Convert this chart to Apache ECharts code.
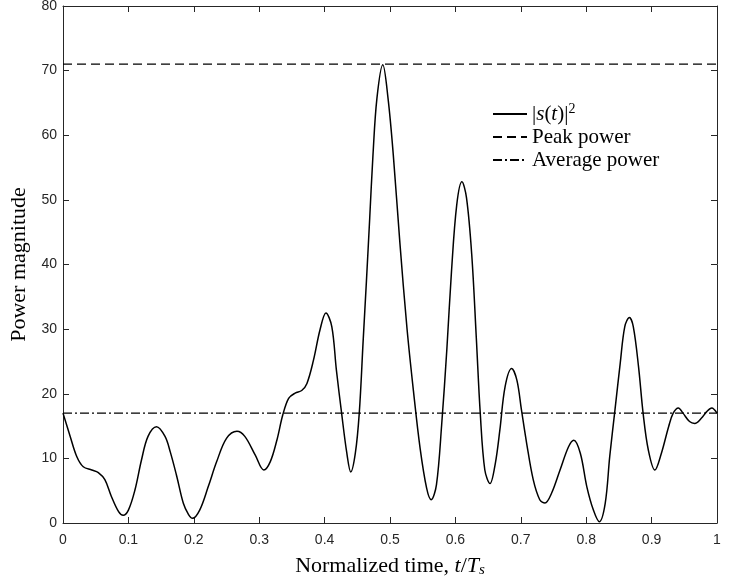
<!DOCTYPE html>
<html>
<head>
<meta charset="utf-8">
<script src="https://cdn.jsdelivr.net/npm/echarts@6/dist/echarts.min.js"></script>
<style>html,body{margin:0;padding:0;background:#fff;}#c{width:743px;height:581px;}</style>
</head>
<body>
<div id="c"></div>
<script>
// ---- data ----
const tValues = [0.000,0.011,0.021,0.031,0.044,0.054,0.064,0.074,0.085,0.092,0.100,0.110,0.120,0.130,0.143,0.156,0.164,0.174,0.184,0.192,0.198,0.209,0.222,0.235,0.250,0.266,0.278,0.294,0.307,0.317,0.327,0.336,0.345,0.355,0.365,0.373,0.383,0.393,0.402,0.411,0.418,0.426,0.434,0.440,0.447,0.453,0.459,0.464,0.469,0.474,0.480,0.489,0.497,0.505,0.515,0.526,0.536,0.546,0.556,0.563,0.571,0.579,0.587,0.594,0.602,0.610,0.617,0.625,0.632,0.638,0.645,0.653,0.661,0.668,0.676,0.686,0.694,0.701,0.709,0.719,0.729,0.737,0.747,0.760,0.773,0.781,0.791,0.801,0.811,0.820,0.829,0.836,0.844,0.852,0.859,0.866,0.872,0.880,0.887,0.895,0.905,0.915,0.926,0.933,0.941,0.948,0.958,0.966,0.976,0.984,0.992,1.000];
const powerValues = [17.0,13.4,10.3,8.7,8.2,7.8,6.7,4.1,1.75,1.2,2.0,5.1,9.75,13.4,14.9,13.4,11.0,7.2,3.05,1.3,0.72,2.0,5.6,9.5,13.1,14.2,13.4,10.5,8.2,9.5,12.8,16.7,19.3,20.1,20.5,21.6,25.2,29.9,32.5,30.4,23.7,17.0,10.8,7.9,10.8,17.0,28.3,37.5,47.2,57.0,65.7,70.9,65.7,57.0,43.5,30.1,20.3,11.6,5.4,3.6,5.9,15.2,27.0,38.9,49.2,52.8,50.3,41.5,28.6,17.0,8.2,6.1,9.2,14.4,21.1,23.9,22.1,17.5,12.3,6.7,3.6,3.1,4.6,8.2,11.8,12.8,10.8,5.6,2.0,0.2,3.0,10.3,17.5,24.7,30.4,31.8,30.4,24.2,17.0,11.3,8.2,10.8,14.9,17.0,17.8,17.0,15.7,15.4,16.2,17.2,17.8,17.0];
const peakPower = 71;
const averagePower = 17;
const xRange = [0, 1];
const yRange = [0, 80];
const xTickLabels = ['0','0.1','0.2','0.3','0.4','0.5','0.6','0.7','0.8','0.9','1'];
const yTickLabels = ['0','10','20','30','40','50','60','70','80'];
const seriesNames = ['signal', 'Peak power', 'Average power'];

const curve = tValues.map((t, i) => [t, powerValues[i]]);
const peakLine = xRange.map(x => [x, peakPower]);
const avgLine = xRange.map(x => [x, averagePower]);

const axisColor = '#262626';
const serif = '"Liberation Serif", "Times New Roman", serif';
const sans = '"Liberation Sans", Arial, Helvetica, sans-serif';

const chart = echarts.init(document.getElementById('c'), null, {renderer: 'canvas'});
const baseAxis = {
  type: 'value',
  axisLine: {show: true, onZero: false, lineStyle: {color: axisColor, width: 1}},
  axisTick: {show: true, inside: true, length: 6, lineStyle: {color: axisColor, width: 1}},
  splitLine: {show: false}
};
chart.setOption({
  animation: false,
  backgroundColor: '#fff',
  grid: {left: 63, right: 26, top: 6, bottom: 58, containLabel: false, outerBoundsMode: 'none'},
  legend: {
    orient: 'vertical',
    left: 487, top: 97,
    itemWidth: 34, itemHeight: 14, itemGap: 2,
    data: seriesNames,
    itemStyle: {color: 'transparent', borderColor: 'transparent', borderWidth: 0},
    textStyle: {
      fontFamily: serif, fontSize: 21, color: '#000', lineHeight: 21,
      rich: {
        i: {fontFamily: serif, fontSize: 21, fontStyle: 'italic', color: '#000', lineHeight: 21},
        sup: {fontFamily: serif, fontSize: 14, color: '#000', padding: [0, 0, 10, 0]}
      }
    },
    formatter: function (name) {
      if (name === 'signal') return '|{i|s}({i|t})|{sup|2}';
      return name;
    }
  },
  xAxis: [
    Object.assign({}, baseAxis, {
      position: 'bottom', min: xRange[0], max: xRange[1], interval: 0.1,
      axisLabel: {color: axisColor, fontFamily: sans, fontSize: 14, margin: 10,
        formatter: v => xTickLabels[Math.round(v * 10)]},
      name: 'Normalized time, {i|t}/{i|T}{sub|s}',
      nameLocation: 'middle', nameGap: 31,
      nameTextStyle: {fontFamily: serif, fontSize: 22, color: '#000',
        rich: {
          i: {fontFamily: serif, fontSize: 22, fontStyle: 'italic', color: '#000'},
          sub: {fontFamily: serif, fontSize: 15, fontStyle: 'italic', color: '#000', padding: [9, 0, 0, 0]}
        }}
    }),
    Object.assign({}, baseAxis, {
      position: 'top', min: xRange[0], max: xRange[1], interval: 0.1,
      axisLabel: {show: false}
    })
  ],
  yAxis: [
    Object.assign({}, baseAxis, {
      position: 'left', min: yRange[0], max: yRange[1], interval: 10,
      axisLabel: {color: axisColor, fontFamily: sans, fontSize: 14, margin: 6,
        formatter: v => yTickLabels[Math.round(v / 10)]},
      name: 'Power magnitude', nameLocation: 'middle', nameGap: 26,
      nameTextStyle: {fontFamily: serif, fontSize: 22, color: '#000'}
    }),
    Object.assign({}, baseAxis, {
      position: 'right', min: yRange[0], max: yRange[1], interval: 10,
      axisLabel: {show: false}
    })
  ],
  series: [
    {name: seriesNames[0], type: 'line', data: curve, smooth: 0.35, symbol: 'none',
      lineStyle: {color: '#000', width: 1.5}, itemStyle: {color: '#000'}},
    {name: seriesNames[1], type: 'line', data: peakLine, symbol: 'none',
      lineStyle: {color: '#000', width: 1.2, type: [9, 5]}, itemStyle: {color: '#000'}},
    {name: seriesNames[2], type: 'line', data: avgLine, symbol: 'none',
      lineStyle: {color: '#000', width: 1.2, type: [9, 3, 2, 3]}, itemStyle: {color: '#000'}}
  ]
});
</script>
</body>
</html>
